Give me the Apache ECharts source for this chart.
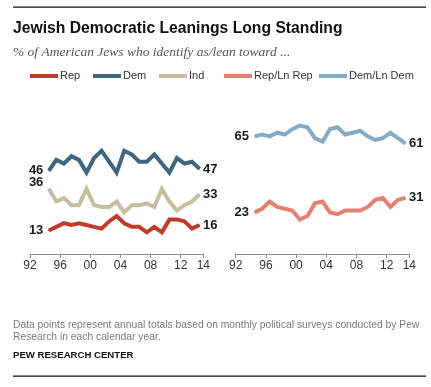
<!DOCTYPE html>
<html><head><meta charset="utf-8">
<script src="https://cdn.jsdelivr.net/npm/echarts@6/dist/echarts.min.js"></script>
<style>html,body{margin:0;padding:0;background:#fff}#c{width:431px;height:387px}</style>
</head><body><div id="c"></div>
<script>
// Annual values (year of survey)
const years = [1994,1995,1996,1997,1998,1999,2000,2001,2002,2003,2004,2005,2006,2007,2008,2009,2010,2011,2012,2013,2014];
const rep   = [13,15,17,16,17,16,15,14,18,21,17,15,15,12,15,12,19,19,18,14,16];
const dem   = [46,52,50,54,52,45,53,57,51,45,57,55,51,51,55,50,45,53,50,51,47];
const ind   = [36,29,31,27,27,36,27,26,26,29,23,27,27,28,26,36,29,24,27,29,33];
const repLn = [23,25,29,26,25,24,19,21,28,29,23,22,24,24,24,26,30,31,26,30,31];
const demLn = [65,66,65,67,66,69,71,70,64,62,69,70,66,67,68,65,63,64,67,64,61];
const tickYears  = [1992,1996,2000,2004,2008,2012,2015];
const tickLabels = ['92','96','00','04','08','12','14'];

const SANS = "'Liberation Sans', Arial, sans-serif";
const colors = {Rep:'#bf3b2c', Dem:'#41657f', Ind:'#c7bea0', 'Rep/Ln Rep':'#e3806f', 'Dem/Ln Dem':'#86abc6'};

function build(vals, startOffset, endOffset) {
  return vals.map((v, i) => {
    const item = {value: [years[i] + 0.5, v]};
    if (i === 0) item.label = {show: true, position: 'left', distance: 5, offset: startOffset || [0,0]};
    else if (i === vals.length - 1) item.label = {show: true, position: 'right', distance: 3, offset: endOffset || [0,0]};
    return item;
  });
}
function series(name, vals, idx, so, eo) {
  return {
    type: 'line', name: name, xAxisIndex: idx, yAxisIndex: idx,
    data: build(vals, so, eo), symbol: 'circle', symbolSize: 1, showSymbol: true,
    lineStyle: {width: 4, color: colors[name], join: 'miter'},
    itemStyle: {color: colors[name]},
    label: {show: false, fontFamily: SANS, fontWeight: 'bold', fontSize: 13, color: '#1a1a1a',
            formatter: p => p.value[1]},
    emphasis: {disabled: true}, silent: true
  };
}
function xAxis(idx) {
  return {
    type: 'value', gridIndex: idx, min: 1992, max: 2015,
    axisLine: {show: true, lineStyle: {color: '#8c8c8c', width: 1}},
    axisTick: {show: true, length: 4, lineStyle: {color: '#8c8c8c'}, customValues: tickYears},
    axisLabel: {customValues: tickYears, margin: 6, fontFamily: SANS, fontSize: 12, color: '#333',
                formatter: v => tickLabels[tickYears.indexOf(v)]},
    splitLine: {show: false}
  };
}
function yAxis(idx) {
  return {type: 'value', gridIndex: idx, min: 0, max: 100, show: false, splitLine: {show: false}};
}
function legend(name, left) {
  return {data: [name], left: left, top: 70.5, padding: 0, itemWidth: 28, itemHeight: 4, itemGap: 0,
          icon: 'rect', selectedMode: false,
          textStyle: {fontFamily: SANS, fontSize: 11, color: '#333', padding: [0,0,0,-3]}};
}

const chart = echarts.init(document.getElementById('c'), null, {renderer: 'canvas'});
chart.setOption({
  animation: false,
  backgroundColor: '#fff',
  grid: [
    {left: 30, width: 173.3, top: 73, height: 181},
    {left: 235.7, width: 173.6, top: 73, height: 181}
  ],
  xAxis: [xAxis(0), xAxis(1)],
  yAxis: [yAxis(0), yAxis(1)],
  legend: [legend('Rep', 30), legend('Dem', 93), legend('Ind', 159), legend('Rep/Ln Rep', 224), legend('Dem/Ln Dem', 319)],
  series: [
    series('Ind', ind, 0, [0,-6]),
    series('Dem', dem, 0),
    series('Rep', rep, 0),
    series('Rep/Ln Rep', repLn, 1),
    series('Dem/Ln Dem', demLn, 1)
  ],
  graphic: [
    {type: 'rect', shape: {x: 13, y: 6.5, width: 413, height: 1.3}, style: {fill: '#111'}},
    {type: 'text', x: 13, y: 28.5, style: {text: 'Jewish Democratic Leanings Long Standing', fontFamily: SANS,
      fontWeight: 'bold', fontSize: 15.7, fill: '#111', verticalAlign: 'middle'}},
    {type: 'text', x: 13, y: 52, style: {text: '% of American Jews who identify as/lean toward ...',
      fontFamily: "'Liberation Serif', Georgia, serif", fontStyle: 'italic', fontSize: 13.5, fill: '#555', verticalAlign: 'middle'}},
    {type: 'text', x: 13, y: 325, style: {text: 'Data points represent annual totals based on monthly political surveys conducted by Pew',
      fontFamily: SANS, fontSize: 10.3, fill: '#7a7a7a', verticalAlign: 'middle'}},
    {type: 'text', x: 13, y: 337, style: {text: 'Research in each calendar year.',
      fontFamily: SANS, fontSize: 10.3, fill: '#7a7a7a', verticalAlign: 'middle'}},
    {type: 'text', x: 13, y: 355, style: {text: 'PEW RESEARCH CENTER', fontFamily: SANS, fontWeight: 'bold',
      fontSize: 9.6, fill: '#111', verticalAlign: 'middle'}},
    {type: 'rect', shape: {x: 13, y: 375.5, width: 413, height: 1.3}, style: {fill: '#111'}}
  ]
});
</script>
</body></html>
